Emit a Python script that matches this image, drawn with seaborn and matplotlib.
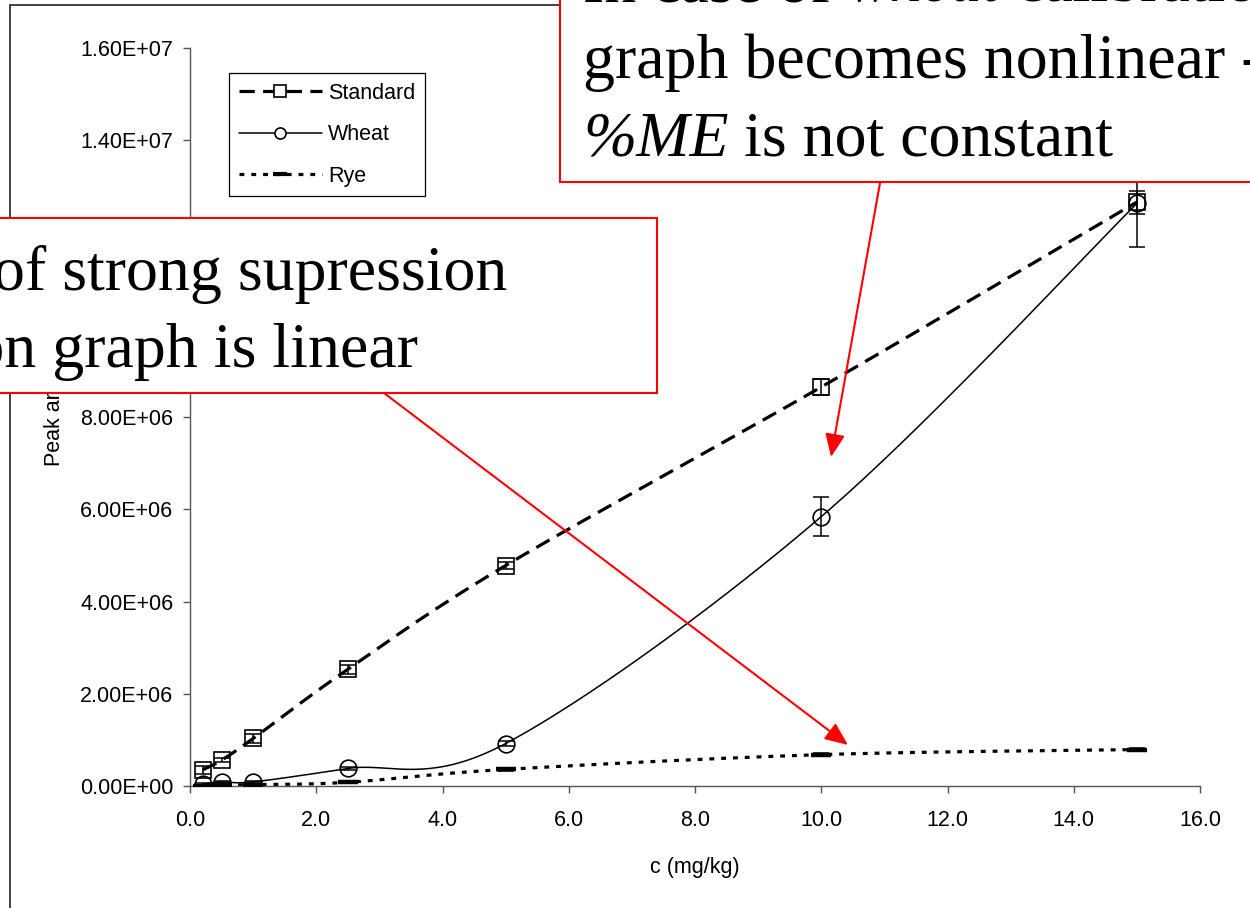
import numpy as np
import pandas as pd
import matplotlib
matplotlib.use("Agg")
import matplotlib.pyplot as plt
import seaborn as sns
from matplotlib.lines import Line2D
from matplotlib.patches import Rectangle, FancyArrowPatch, ArrowStyle
from matplotlib.transforms import IdentityTransform

# Calibration data: concentration (mg/kg) vs peak area
conc = [0.2, 0.5, 1.0, 2.5, 5.0, 10.0, 15.0]
standard = [0.35e6, 0.56e6, 1.03e6, 2.53e6, 4.78e6, 8.65e6, 12.66e6]
standard_err = [0.08e6, 0.05e6, 0.10e6, 0.10e6, 0.08e6, 0.18e6, 0.25e6]
wheat = [0.04e6, 0.09e6, 0.09e6, 0.38e6, 0.92e6, 5.84e6, 12.63e6]
wheat_err = [0.02e6, 0.02e6, 0.02e6, 0.03e6, 0.05e6, 0.42e6, 0.95e6]
rye = [0.01e6, 0.02e6, 0.03e6, 0.08e6, 0.36e6, 0.68e6, 0.79e6]
rye_err = [0.01e6, 0.01e6, 0.01e6, 0.02e6, 0.03e6, 0.03e6, 0.03e6]
series_names = ["Standard", "Wheat", "Rye"]

x_ticks = [0.0, 2.0, 4.0, 6.0, 8.0, 10.0, 12.0, 14.0, 16.0]
y_ticks = [0.0, 2e6, 4e6, 6e6, 8e6, 10e6, 12e6, 14e6, 16e6]

sns.set_theme(style="ticks")
plt.rcParams["font.family"] = ["Liberation Sans", "DejaVu Sans"]
plt.rcParams["lines.scale_dashes"] = False
plt.rcParams["text.color"] = "black"
plt.rcParams["axes.labelcolor"] = "black"
plt.rcParams["xtick.color"] = "black"
plt.rcParams["ytick.color"] = "black"

W, H = 1250, 908
fig = plt.figure(figsize=(W / 100, H / 100), dpi=100)
fig.patch.set_facecolor("white")
ax = fig.add_axes([190 / W, 1 - 786 / H, 1010 / W, 738 / H])
ax.set_facecolor("white")


def smooth_curve(xs, ys, n=40):
    """Bezier smoothing through every point (spreadsheet-style smoothed line)."""
    p = np.column_stack([xs, ys]).astype(float)
    pts = np.vstack([p[0], p, p[-1]])
    out = []
    for i in range(1, len(pts) - 2):
        p0, p1, p2, p3 = pts[i - 1], pts[i], pts[i + 1], pts[i + 2]
        c1 = p1 + (p2 - p0) / 6.0
        c2 = p2 - (p3 - p1) / 6.0
        t = np.linspace(0, 1, n)[:, None]
        seg = ((1 - t) ** 3) * p1 + 3 * ((1 - t) ** 2) * t * c1 + 3 * (1 - t) * t ** 2 * c2 + t ** 3 * p2
        out.append(seg if i == 1 else seg[1:])
    out = np.vstack(out)
    return out[:, 0], out[:, 1]


styles = {
    "Standard": dict(values=standard, err=standard_err, lw=2.3, dashes=(11, 6),
                     marker="s", ms=12, mew=1.2),
    "Wheat": dict(values=wheat, err=wheat_err, lw=1.1, dashes=None,
                  marker="o", ms=12, mew=1.2),
    "Rye": dict(values=rye, err=rye_err, lw=2.3, dashes=(3.5, 5),
                marker="_", ms=14, mew=3.2),
}

frames = []
for name in series_names:
    sx, sy = smooth_curve(conc, styles[name]["values"])
    frames.append(pd.DataFrame({"c": sx, "area": sy, "series": name}))
curves = pd.concat(frames, ignore_index=True)

for name in series_names:
    st = styles[name]
    sub = curves[curves["series"] == name]
    sns.lineplot(data=sub, x="c", y="area", ax=ax, color="black", lw=st["lw"],
                 sort=False, estimator=None, legend=False, zorder=2)
    line = ax.lines[-1]
    if st["dashes"] is not None:
        line.set_dashes(st["dashes"])
        line.set_dash_capstyle("butt")
    ax.errorbar(conc, st["values"], yerr=st["err"], fmt="none", ecolor="black",
                elinewidth=1.1, capsize=6, capthick=1.1, zorder=3)
    ax.plot(conc, st["values"], ls="none", marker=st["marker"], ms=st["ms"],
            mfc="none" if name != "Rye" else "black", mec="black", mew=st["mew"],
            zorder=4)

ax.set_xlim(0, 16)
ax.set_ylim(0, 16e6)
ax.set_xticks(x_ticks)
ax.set_yticks(y_ticks)
ax.set_xticklabels([f"{v:.1f}" for v in x_ticks])
ax.set_yticklabels([f"{v:.2E}" for v in y_ticks])
ax.tick_params(axis="both", labelsize=15.5, length=5, width=1, color="#555555",
               direction="out")
ax.tick_params(axis="x", pad=12)
ax.tick_params(axis="y", pad=7)
for side in ["top", "right"]:
    ax.spines[side].set_visible(False)
for side in ["left", "bottom"]:
    ax.spines[side].set_color("#555555")
    ax.spines[side].set_linewidth(1.0)
ax.set_xlabel("c (mg/kg)", fontsize=15.5, labelpad=19)
ax.set_ylabel("Peak area", fontsize=15.5, labelpad=11)

handles = [
    Line2D([], [], color="black", lw=2.3, dashes=(11, 6), marker="s", ms=8,
           mfc="white", mec="black", mew=1.2),
    Line2D([], [], color="black", lw=1.1, marker="o", ms=8, mfc="white",
           mec="black", mew=1.2),
    Line2D([], [], color="black", lw=2.3, dashes=(3.5, 5), marker="_", ms=10,
           mec="black", mew=3),
]
leg = ax.legend(handles, series_names, loc="upper left",
                bbox_to_anchor=(229, H - 73), bbox_transform=IdentityTransform(),
                frameon=True, fancybox=False, edgecolor="black", fontsize=15.5,
                handlelength=3.85, handletextpad=0.3, labelspacing=0.95,
                borderpad=0.45, borderaxespad=0)
leg.get_frame().set_linewidth(0.9)
leg.get_frame().set_facecolor("white")
leg.get_frame().set_alpha(1)

ident = IdentityTransform()

# outer chart frame
fig.patches.append(Rectangle((10, -20), 1400, H - 5 + 20, transform=ident,
                             facecolor="none", edgecolor="#333333", lw=1.3,
                             zorder=-1))

# callout boxes
fig.patches.append(Rectangle((560, H - 182), 900, 300, transform=ident,
                             facecolor="white", edgecolor="red", lw=1.5, zorder=5))
fig.patches.append(Rectangle((-60, H - 393), 60 + 657, 175, transform=ident,
                             facecolor="white", edgecolor="red", lw=1.5, zorder=5))

serif = ["Liberation Serif", "DejaVu Serif"]
fsize = 46
fig.canvas.draw()
renderer = fig.canvas.get_renderer()


def text_runs(x, y, runs):
    for s, style in runs:
        t = fig.text(x, y, s, transform=ident, family=serif, fontsize=fsize,
                     fontstyle=style, va="baseline", ha="left", color="black",
                     zorder=6)
        x += t.get_window_extent(renderer).width


text_runs(583, H - 1, [("In case of ", "normal"), ("wheat", "italic"),
                       (" calibration", "normal")])
text_runs(583, H - 78, [("graph becomes nonlinear -", "normal")])
text_runs(583, H - 155, [("%ME", "italic"), (" is not constant", "normal")])

fig.text(507, H - 290, "In case of strong supression", transform=ident,
         family=serif, fontsize=fsize, va="baseline", ha="right", color="black",
         zorder=6)
fig.text(418, H - 367, "calibration graph is linear", transform=ident,
         family=serif, fontsize=fsize, va="baseline", ha="right", color="black",
         zorder=6)

# red arrows
head = ArrowStyle("-|>", head_length=14, head_width=6)
for (xa, ya), (xb, yb) in [((880, 183), (831, 457)), ((384, 393), (848, 745))]:
    fig.patches.append(FancyArrowPatch((xa, H - ya), (xb, H - yb), transform=ident,
                                       arrowstyle=head, mutation_scale=1,
                                       color="red", lw=1.5, shrinkA=0, shrinkB=0,
                                       zorder=6))

fig.savefig("out.png", dpi=100)
